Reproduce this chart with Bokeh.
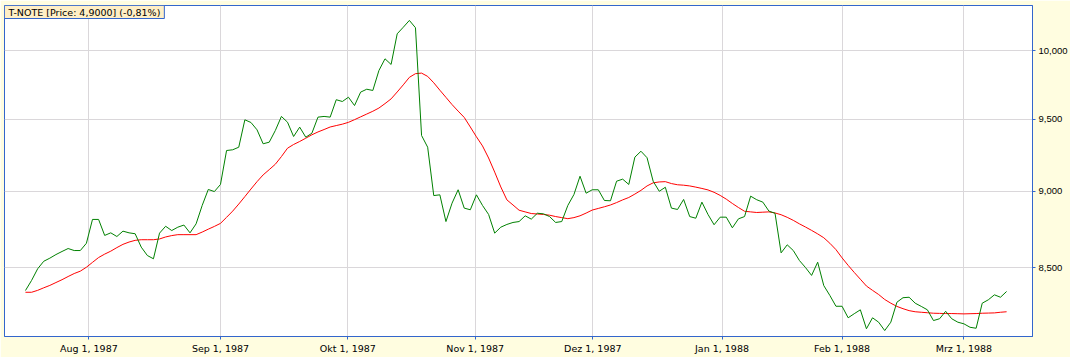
from bokeh.plotting import figure
from bokeh.models import FixedTicker, CustomJSTickFormatter, Label, Range1d
from bokeh.embed import file_html
from bokeh.resources import INLINE

title_text = "T-NOTE [Price: 4,9000] (-0,81%)"

price = [8.356, 8.419, 8.493, 8.541, 8.561, 8.584, 8.604, 8.623, 8.610, 8.610,
         8.657, 8.813, 8.813, 8.708, 8.725, 8.701, 8.736, 8.725, 8.719, 8.632,
         8.578, 8.557, 8.723, 8.768, 8.740, 8.762, 8.776, 8.725, 8.784, 8.906,
         9.013, 8.999, 9.047, 9.280, 9.285, 9.303, 9.496, 9.477, 9.425, 9.327,
         9.338, 9.420, 9.520, 9.479, 9.378, 9.444, 9.373, 9.401, 9.515, 9.520,
         9.515, 9.640, 9.627, 9.658, 9.598, 9.695, 9.716, 9.707, 9.853, 9.940,
         9.898, 10.128, 10.178, 10.230, 10.174, 9.385, 9.303, 8.972, 8.977, 8.799,
         8.921, 9.011, 8.888, 8.877, 8.977, 8.906, 8.846, 8.723, 8.762, 8.780,
         8.793, 8.799, 8.837, 8.815, 8.854, 8.850, 8.832, 8.793, 8.799, 8.906,
         8.979, 9.103, 8.988, 9.011, 9.011, 8.939, 8.937, 9.069, 9.083, 9.047,
         9.234, 9.275, 9.230, 9.069, 9.001, 9.028, 8.888, 8.879, 8.946, 8.832,
         8.821, 8.928, 8.846, 8.778, 8.828, 8.828, 8.758, 8.817, 8.832, 8.968,
         8.944, 8.928, 8.868, 8.854, 8.595, 8.647, 8.610, 8.546, 8.501, 8.451,
         8.535, 8.387, 8.325, 8.258, 8.258, 8.187, 8.212, 8.236, 8.120, 8.187,
         8.160, 8.109, 8.160, 8.283, 8.311, 8.314, 8.277, 8.257, 8.236, 8.170,
         8.181, 8.227, 8.181, 8.160, 8.150, 8.129, 8.123, 8.277, 8.298, 8.329,
         8.314, 8.350]

average = [8.345, 8.345, 8.357, 8.373, 8.388, 8.406, 8.424, 8.444, 8.463, 8.478,
           8.503, 8.534, 8.565, 8.587, 8.606, 8.629, 8.650, 8.665, 8.676, 8.680,
           8.680, 8.680, 8.685, 8.698, 8.707, 8.713, 8.713, 8.713, 8.713, 8.730,
           8.749, 8.767, 8.787, 8.827, 8.868, 8.915, 8.965, 9.016, 9.066, 9.112,
           9.148, 9.185, 9.238, 9.296, 9.322, 9.343, 9.366, 9.390, 9.410, 9.427,
           9.445, 9.455, 9.465, 9.478, 9.497, 9.517, 9.537, 9.557, 9.580, 9.612,
           9.646, 9.696, 9.748, 9.803, 9.830, 9.834, 9.810, 9.763, 9.709, 9.657,
           9.605, 9.558, 9.513, 9.445, 9.376, 9.312, 9.228, 9.131, 9.030, 8.943,
           8.909, 8.874, 8.863, 8.852, 8.849, 8.846, 8.841, 8.832, 8.825, 8.818,
           8.825, 8.837, 8.855, 8.875, 8.886, 8.897, 8.909, 8.925, 8.943, 8.959,
           8.982, 9.007, 9.037, 9.058, 9.064, 9.066, 9.053, 9.045, 9.042, 9.037,
           9.029, 9.020, 9.010, 8.994, 8.973, 8.948, 8.919, 8.892, 8.867, 8.863,
           8.859, 8.861, 8.863, 8.856, 8.844, 8.827, 8.807, 8.784, 8.763, 8.741,
           8.718, 8.693, 8.657, 8.616, 8.563, 8.515, 8.470, 8.427, 8.384, 8.357,
           8.331, 8.300, 8.277, 8.257, 8.243, 8.231, 8.224, 8.221, 8.218, 8.215,
           8.214, 8.213, 8.213, 8.212, 8.211, 8.212, 8.213, 8.215, 8.216, 8.217,
           8.221, 8.224]

month_ticks = [10.4, 32.0, 52.9, 73.8, 93.1, 114.3, 134.0, 154.0]
month_labels = ["Aug 1, 1987", "Sep 1, 1987", "Okt 1, 1987", "Nov 1, 1987",
                "Dez 1, 1987", "Jan 1, 1988", "Feb 1, 1988", "Mrz 1, 1988"]
price_ticks = [8.5, 9.0, 9.5, 10.0]

x = list(range(len(price)))

X_START, X_END = -3.44, 165.25
Y_START, Y_END = 8.073, 10.345

BLUE = "#3366CC"
BG = "#FFFDE0"
GRID = "#DAD7DA"
FONT = "DejaVu Sans"
FSIZE = "9.5px"

p = figure(width=1070, height=357, output_backend="svg", toolbar_location=None,
           x_range=Range1d(X_START, X_END), y_range=Range1d(Y_START, Y_END),
           y_axis_type="log", y_axis_location="right",
           min_border_left=4, min_border_right=31, min_border_top=5, min_border_bottom=21)

p.background_fill_color = "white"
p.border_fill_color = BG
p.outline_line_color = BLUE
p.outline_line_width = 1

p.line(x, average, line_color="#FF0000", line_width=1)
p.line(x, price, line_color="#008000", line_width=1)

# x axis
p.xaxis.ticker = FixedTicker(ticks=month_ticks)
p.xaxis.formatter = CustomJSTickFormatter(
    args=dict(pos=month_ticks, labels=month_labels),
    code="const i = pos.findIndex(v => Math.abs(v - tick) < 1e-6); return i >= 0 ? labels[i] : '';")
p.xaxis.axis_line_color = BLUE
p.xaxis.major_tick_line_color = BLUE
p.xaxis.major_tick_out = 3
p.xaxis.major_tick_in = 0
p.xaxis.minor_tick_line_color = None
p.xaxis.major_label_standoff = 3
p.xaxis.major_label_text_font = FONT
p.xaxis.major_label_text_font_size = FSIZE
p.xaxis.major_label_text_color = "black"

# y axis (right)
p.yaxis.ticker = FixedTicker(ticks=price_ticks)
p.yaxis.formatter = CustomJSTickFormatter(code="return tick.toFixed(3).replace('.', ',');")
p.yaxis.axis_line_color = BLUE
p.yaxis.major_tick_line_color = BLUE
p.yaxis.major_tick_out = 3
p.yaxis.major_tick_in = 0
p.yaxis.minor_tick_line_color = None
p.yaxis.major_label_standoff = 3
p.yaxis.major_label_text_font = "Liberation Sans"
p.yaxis.major_label_text_font_size = FSIZE
p.yaxis.major_label_text_color = "black"

p.xgrid.grid_line_color = GRID
p.ygrid.grid_line_color = GRID

p.add_layout(Label(x=X_START, y=Y_END, text=title_text,
                   text_align="left", text_baseline="top",
                   text_font=FONT, text_font_size=FSIZE, text_color="black",
                   background_fill_color="#FFEFC6",
                   border_line_color=BLUE, border_line_width=1,
                   padding=dict(left=4, right=4, top=1, bottom=1)))

open("out.html", "w").write(file_html(p, INLINE))
